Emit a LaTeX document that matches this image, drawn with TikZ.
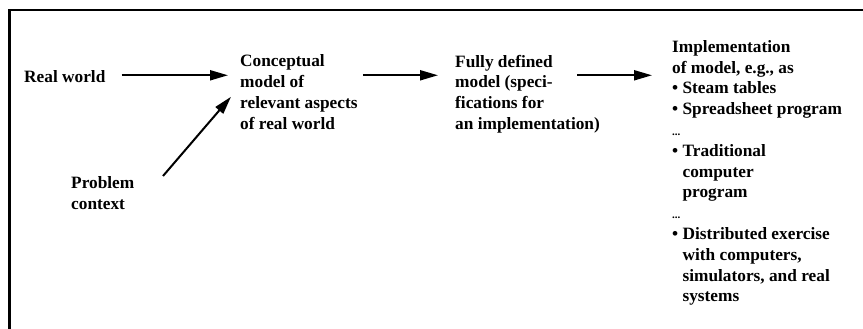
\documentclass[tikz,border=0pt]{standalone}
\usepackage{fontspec}
\setmainfont{Liberation Serif}
\usetikzlibrary{arrows.meta}
% indent that lines up wrapped item text after a bullet
\newcommand\bulletgap{\hphantom{•\ }}
% small ellipsis used between list items
\newcommand\moredots{{\fontsize{11}{11}\selectfont...}}
\begin{document}
\begin{tikzpicture}[x=1pt,y=-1pt,
  label/.style={anchor=north west, inner sep=0pt, align=left,
    font=\bfseries\fontsize{17.3}{20.8}\selectfont},
  flow/.style={line width=2pt, -{Triangle[length=18pt,width=10pt]}},
  frame/.style={line width=2.4pt}]
\useasboundingbox (0,0) rectangle (863,329);
\draw[frame] (9.5,329) -- (9.5,10) -- (863,10);

\node[label] (real) at (24,70.7) {Real world};
\node[label] (concept) at (240,54.7) {Conceptual\\model of\\relevant aspects\\of real world};
\node[label] (fully) at (455,54.7) {Fully defined\\model (speci-\\fications for\\an implementation)};
\node[label] (impl) at (672,40) {Implementation\\of model, e.g., as\\• Steam tables\\• Spreadsheet program\\\moredots\\• Traditional\\\bulletgap computer\\\bulletgap program\\\moredots\\• Distributed exercise\\\bulletgap with computers,\\\bulletgap simulators, and real\\\bulletgap systems};
\node[label] (problem) at (71,176) {Problem\\context};

\draw[flow] ([xshift=16pt,yshift=1.7pt]real.east) -- ([xshift=-12pt,yshift=1.7pt]concept.west |- real.east);
\draw[flow] ([xshift=28.5pt]problem.north east) -- ([xshift=-9pt,yshift=-4.6pt]concept.west);
\draw[flow] ([xshift=5pt]concept.east |- real.east) ++(0,-1.7) -- ([xshift=-17pt,yshift=1.7pt]fully.west |- real.east);
\draw[flow] ([xshift=122pt]fully.west |- real.east) ++(0,-1.7) -- ([xshift=-20pt,yshift=1.7pt]impl.west |- real.east);
\end{tikzpicture}
\end{document}
